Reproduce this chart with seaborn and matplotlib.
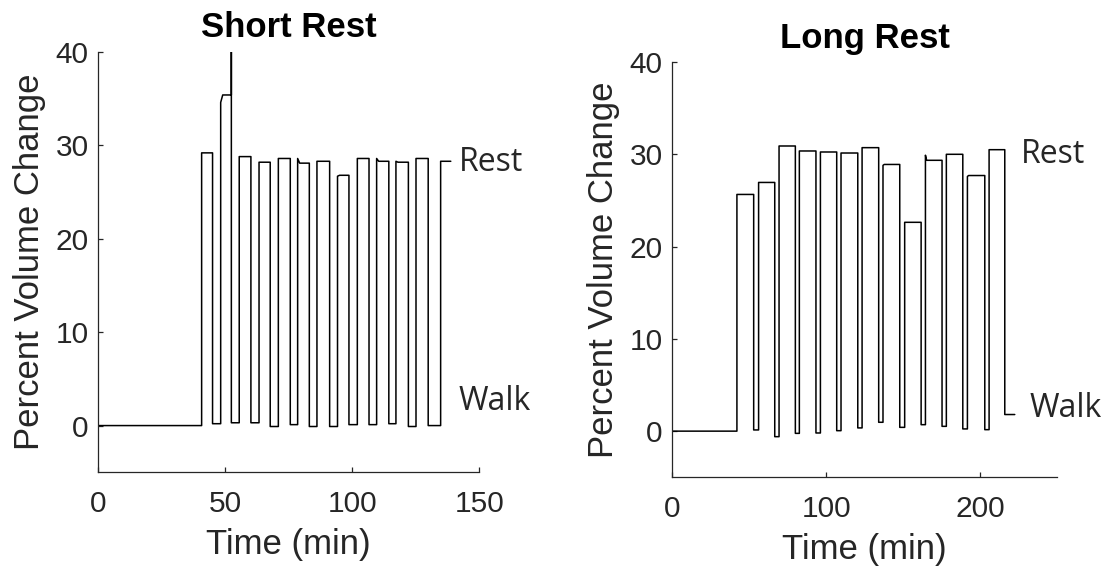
import matplotlib
matplotlib.use("Agg")
import pandas as pd
import matplotlib.pyplot as plt
import seaborn as sns

# Short rest protocol (time in min, percent volume change)
SHORT_BASE_END = 40.7
SHORT_REST_START = [40.7, 48.2, 55.5, 63.3, 70.9, 78.5, 86.1, 94.2, 102.0, 109.6, 117.2, 125.1, 134.8]
SHORT_REST_END = [45.0, 52.4, 60.1, 67.7, 75.6, 83.1, 91.1, 98.7, 106.6, 114.4, 122.1, 129.9, 138.8]
SHORT_REST_PEAK = [29.2, 34.6, 28.8, 28.2, 28.6, 28.6, 28.3, 26.7, 28.6, 28.6, 28.3, 28.6, 28.3]
SHORT_REST_LEVEL = [29.2, 35.4, 28.8, 28.2, 28.6, 28.1, 28.3, 26.8, 28.6, 28.3, 28.2, 28.6, 28.3]
SHORT_WALK_LEVEL = [0.2, 0.3, 0.3, -0.1, 0.1, -0.1, -0.1, 0.1, 0.1, 0.2, -0.1, 0.0]
SHORT_SPIKE_BAR = 1
SHORT_SPIKE_TOP = 40.0

# Long rest protocol
LONG_BASE_END = 42.0
LONG_REST_START = [42.0, 56.1, 69.4, 82.6, 96.3, 109.7, 123.4, 137.0, 151.1, 164.6, 178.2, 191.9, 206.0]
LONG_REST_END = [52.9, 66.6, 80.0, 93.4, 106.9, 120.6, 134.2, 147.9, 161.8, 175.4, 188.9, 203.2, 216.2]
LONG_REST_PEAK = [25.65, 26.95, 30.9, 30.36, 30.25, 30.14, 30.72, 28.8, 22.63, 29.9, 30.0, 27.6, 30.5]
LONG_REST_LEVEL = [25.65, 26.95, 30.9, 30.36, 30.25, 30.14, 30.72, 28.9, 22.63, 29.35, 30.0, 27.7, 30.5]
LONG_WALK_LEVEL = [0.13, -0.6, -0.24, -0.2, 0.05, 0.35, 0.96, 0.41, 0.7, 0.52, 0.24, 0.16, 1.8]
LONG_WALK_END = 222.7

SETTLE = 0.8  # min taken for a rest level to settle after the step


def build_trace(base_end, rest_start, rest_end, rest_peak, rest_level, walk_level,
                walk_end=None, spike_bar=None, spike_top=None):
    times = [0.0, base_end]
    vals = [0.0, 0.0]
    for i in range(len(rest_start)):
        if i > 0:
            times.append(rest_start[i])
            vals.append(walk_level[i - 1])
        times += [rest_start[i], rest_start[i] + SETTLE, rest_end[i]]
        vals += [rest_peak[i], rest_level[i], rest_level[i]]
        if spike_bar == i:
            times.append(rest_end[i])
            vals.append(spike_top)
        if i < len(walk_level):
            times.append(rest_end[i])
            vals.append(walk_level[i])
    if walk_end is not None:
        times.append(walk_end)
        vals.append(walk_level[-1])
    return pd.DataFrame({'time': times, 'change': vals})


short_df = build_trace(SHORT_BASE_END, SHORT_REST_START, SHORT_REST_END,
                       SHORT_REST_PEAK, SHORT_REST_LEVEL, SHORT_WALK_LEVEL,
                       spike_bar=SHORT_SPIKE_BAR, spike_top=SHORT_SPIKE_TOP)
long_df = build_trace(LONG_BASE_END, LONG_REST_START, LONG_REST_END,
                      LONG_REST_PEAK, LONG_REST_LEVEL, LONG_WALK_LEVEL,
                      walk_end=LONG_WALK_END)

sns.set_style("ticks")
plt.rcParams['font.family'] = ['Liberation Sans', 'DejaVu Sans']
GRAY = '#262626'
plt.rcParams['axes.edgecolor'] = GRAY
plt.rcParams['axes.linewidth'] = 0.9

fig = plt.figure(figsize=(11.04, 5.69), dpi=100)
ax1 = fig.add_axes([0.0890, 0.1700, 0.3451, 0.7386])
ax2 = fig.add_axes([0.6090, 0.1612, 0.3482, 0.7298])

panels = [
    (ax1, short_df, 'Short Rest', (0, 150), [0, 50, 100, 150], (141.9, 28.2), (141.9, 2.6), 11),
    (ax2, long_df, 'Long Rest', (0, 250), [0, 100, 200], (226.7, 30.0), (232.0, 2.5), 10),
]

for ax, df, title, xlim, xticks, rest_pos, walk_pos, tpad in panels:
    sns.lineplot(data=df, x='time', y='change', ax=ax, estimator=None, sort=False,
                 color='black', linewidth=1.1)
    ax.set_xlim(*xlim)
    ax.set_ylim(-5, 40)
    ax.set_xticks(xticks)
    ax.set_yticks([0, 10, 20, 30, 40])
    sns.despine(ax=ax)
    ax.tick_params(axis='both', direction='in', length=3.4, width=0.9, color=GRAY,
                   labelsize=21.5, labelcolor=GRAY)
    ax.tick_params(axis='x', pad=13)
    ax.tick_params(axis='y', pad=7)
    ax.set_xlabel('Time (min)', fontsize=25, color=GRAY, labelpad=7)
    ax.set_ylabel('Percent Volume Change', fontsize=25, color=GRAY, labelpad=7)
    ax.set_title(title, fontsize=25, fontweight='bold', color='black', pad=tpad)
    ax.text(rest_pos[0], rest_pos[1], 'Rest', fontsize=23, family='Open Sans',
            ha='left', va='center', clip_on=False)
    ax.text(walk_pos[0], walk_pos[1], 'Walk', fontsize=23, family='Open Sans',
            ha='left', va='center', clip_on=False)

fig.savefig('out.png', dpi=100)
